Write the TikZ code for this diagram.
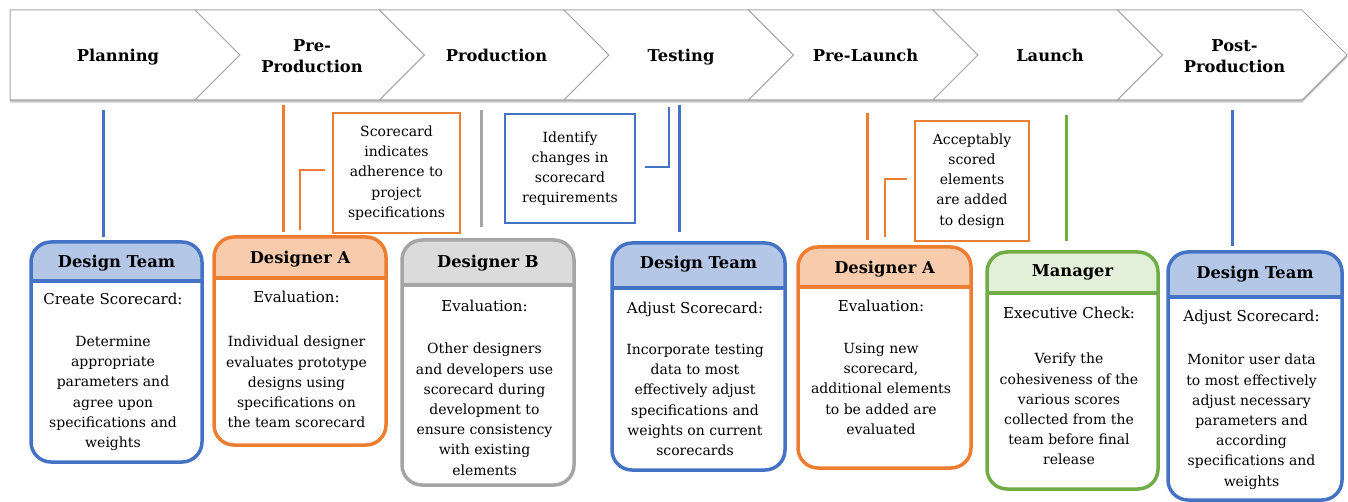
\documentclass[tikz,border=0pt]{standalone}
\usepackage{fontspec}
\setmainfont{DejaVu Serif}
\definecolor{cblue}{HTML}{4472C4}
\definecolor{fblue}{HTML}{B4C7E7}
\definecolor{corange}{HTML}{ED7D31}
\definecolor{forange}{HTML}{F8CBAD}
\definecolor{cgray}{HTML}{A5A5A5}
\definecolor{fgray}{HTML}{DBDBDB}
\definecolor{cgreen}{HTML}{70AD47}
\definecolor{fgreen}{HTML}{E2F0D9}
\definecolor{chev}{HTML}{A6A6A6}
\newcommand\cardbox[7]{%
  \fill[white,rounded corners=20] (#1,#2) rectangle (#3,#4);
  \begin{scope}
    \clip[rounded corners=20] (#1,#2) rectangle (#3,#4);
    \fill[#7] (#1,#2) rectangle (#3,#5);
  \end{scope}
  \draw[#6,line width=3.5,rounded corners=20] (#1,#2) rectangle (#3,#4);
  \draw[#6,line width=4] (#1,#5) -- (#3,#5);
}
\begin{document}
\begin{tikzpicture}[x=1pt,y=-1pt,
  ttl/.style={font=\fontsize{16.3}{22}\selectfont\bfseries,anchor=base,inner sep=0},
  sub/.style={font=\fontsize{15}{22}\selectfont,anchor=base,inner sep=0},
  para/.style={font=\fontsize{14}{20.2}\selectfont,align=center,anchor=north,inner sep=0},
  chv/.style={font=\fontsize{16.3}{21.5}\selectfont\bfseries,align=center,inner sep=0},
  conn/.style={line width=3},
  callout/.style={draw,line width=2.5,inner sep=0,align=center,
    font=\fontsize{14}{20.2}\selectfont}]
\useasboundingbox (0,0) rectangle (1348,502);
\fill[white] (0,0) rectangle (1348,502);
% chevrons: shadows
\foreach \dy/\sh in {3/15,1.5/30}{
  \fill[black!\sh] (10,10+\dy) -- (195,10+\dy) -- (240,55+\dy) -- (195,100+\dy) -- (10,100+\dy) -- cycle;
  \foreach \l/\r in {195/379.5,379.5/564,564/748.5,748.5/933,933/1117.5,1117.5/1302}{
    \fill[black!\sh] (\l,10+\dy) -- (\r,10+\dy) -- (\r+45,55+\dy) -- (\r,100+\dy) -- (\l,100+\dy) -- (\l+45,55+\dy) -- cycle;
  }
}
\draw[chev,fill=white,line width=1] (10,10) -- (195,10) -- (240,55) -- (195,100) -- (10,100) -- cycle;
\foreach \l/\r in {195/379.5,379.5/564,564/748.5,748.5/933,933/1117.5,1117.5/1302}{
  \draw[chev,fill=white,line width=1] (\l,10) -- (\r,10) -- (\r+45,55) -- (\r,100) -- (\l,100) -- (\l+45,55) -- cycle;
}
\node[chv,anchor=base] (h1) at (118,62) {Planning};
\node[chv,anchor=north] (h2) at (312,39) {Pre-\\Production};
\node[chv,anchor=base] (h3) at (496.5,62) {Production};
\node[chv,anchor=base] (h4) at (681,62) {Testing};
\node[chv,anchor=base] (h5) at (865.5,62) {Pre-Launch};
\node[chv,anchor=base] (h6) at (1050,62) {Launch};
\node[chv,anchor=north] (h7) at (1234.5,39) {Post-\\Production};
% connectors
\coordinate (v1a) at (103,110); \coordinate (v1b) at (103,237);
\coordinate (v2a) at (283,105); \coordinate (v2b) at (283,232);
\coordinate (v3a) at (481,110); \coordinate (v3b) at (481,227);
\coordinate (v4a) at (679,105); \coordinate (v4b) at (679,232);
\coordinate (v5a) at (867,113); \coordinate (v5b) at (867,240);
\coordinate (v6a) at (1066,115); \coordinate (v6b) at (1066,241);
\coordinate (v7a) at (1232,110); \coordinate (v7b) at (1232,246);
\draw[conn,cblue] (v1a) -- (v1b);
\draw[conn,corange] (v2a) -- (v2b);
\draw[conn,cgray] (v3a) -- (v3b);
\draw[conn,cblue] (v4a) -- (v4b);
\draw[conn,corange] (v5a) -- (v5b);
\draw[conn,cgreen] (v6a) -- (v6b);
\draw[conn,cblue] (v7a) -- (v7b);
\coordinate (e1a) at (300,230); \coordinate (e1b) at (325,170);
\coordinate (e2a) at (645,167); \coordinate (e2b) at (669,107);
\coordinate (e3a) at (885,237); \coordinate (e3b) at (907,179);
\draw[line width=2.5,corange] (e1a) |- (e1b);
\draw[line width=2.5,cblue] (e2a) -| (e2b);
\draw[line width=2.5,corange] (e3a) |- (e3b);
% callouts
\node[callout,draw=corange,minimum width=127,minimum height=120] (b1) at (396.5,173) {Scorecard\\indicates\\adherence to\\project\\specifications};
\node[callout,draw=cblue,minimum width=130,minimum height=109] (b2) at (570,168.5) {Identify\\changes in\\scorecard\\requirements};
\node[callout,draw=corange,minimum width=114,minimum height=120] (b3) at (972,181) {Acceptably\\scored\\elements\\are added\\to design};
% cards
\cardbox{31}{242}{202}{462}{281}{cblue}{fblue}
\node[ttl] (c1t) at (116.5,268) {Design Team};
\node[sub] (c1s) at (113,305) {Create Scorecard:};
\node[para] (c1p) at (113,336) {Determine\\appropriate\\parameters and\\agree upon\\specifications and\\weights};
\cardbox{214}{237}{386}{445}{278}{corange}{forange}
\node[ttl] (c2t) at (300,264) {Designer A};
\node[sub] (c2s) at (296.5,303) {Evaluation:};
\node[para] (c2p) at (296.5,336) {Individual designer\\evaluates prototype\\designs using\\specifications on\\the team scorecard};
\cardbox{402}{240}{574}{485}{285}{cgray}{fgray}
\node[ttl] (c3t) at (488,268) {Designer B};
\node[sub] (c3s) at (484.5,312) {Evaluation:};
\node[para] (c3p) at (484.5,343) {Other designers\\and developers use\\scorecard during\\development to\\ensure consistency\\with existing\\elements};
\cardbox{612}{243}{785}{470}{288}{cblue}{fblue}
\node[ttl] (c4t) at (698.5,269) {Design Team};
\node[sub] (c4s) at (695,313) {Adjust Scorecard:};
\node[para] (c4p) at (695,344) {Incorporate testing\\data to most\\effectively adjust\\specifications and\\weights on current\\scorecards};
\cardbox{798}{247}{971}{468}{287}{corange}{forange}
\node[ttl] (c5t) at (884.5,274) {Designer A};
\node[sub] (c5s) at (881,312) {Evaluation:};
\node[para] (c5p) at (881,343) {Using new\\scorecard,\\additional elements\\to be added are\\evaluated};
\cardbox{987}{252}{1158}{489}{293}{cgreen}{fgreen}
\node[ttl] (c6t) at (1072.5,277) {Manager};
\node[sub] (c6s) at (1069,319) {Executive Check:};
\node[para] (c6p) at (1069,353) {Verify the\\cohesiveness of the\\various scores\\collected from the\\team before final\\release};
\cardbox{1168}{252}{1342}{500}{297}{cblue}{fblue}
\node[ttl] (c7t) at (1255,279) {Design Team};
\node[sub] (c7s) at (1251.5,321) {Adjust Scorecard:};
\node[para] (c7p) at (1251.5,354) {Monitor user data\\to most effectively\\adjust necessary\\parameters and\\according\\specifications and\\weights};
\end{tikzpicture}
\end{document}
